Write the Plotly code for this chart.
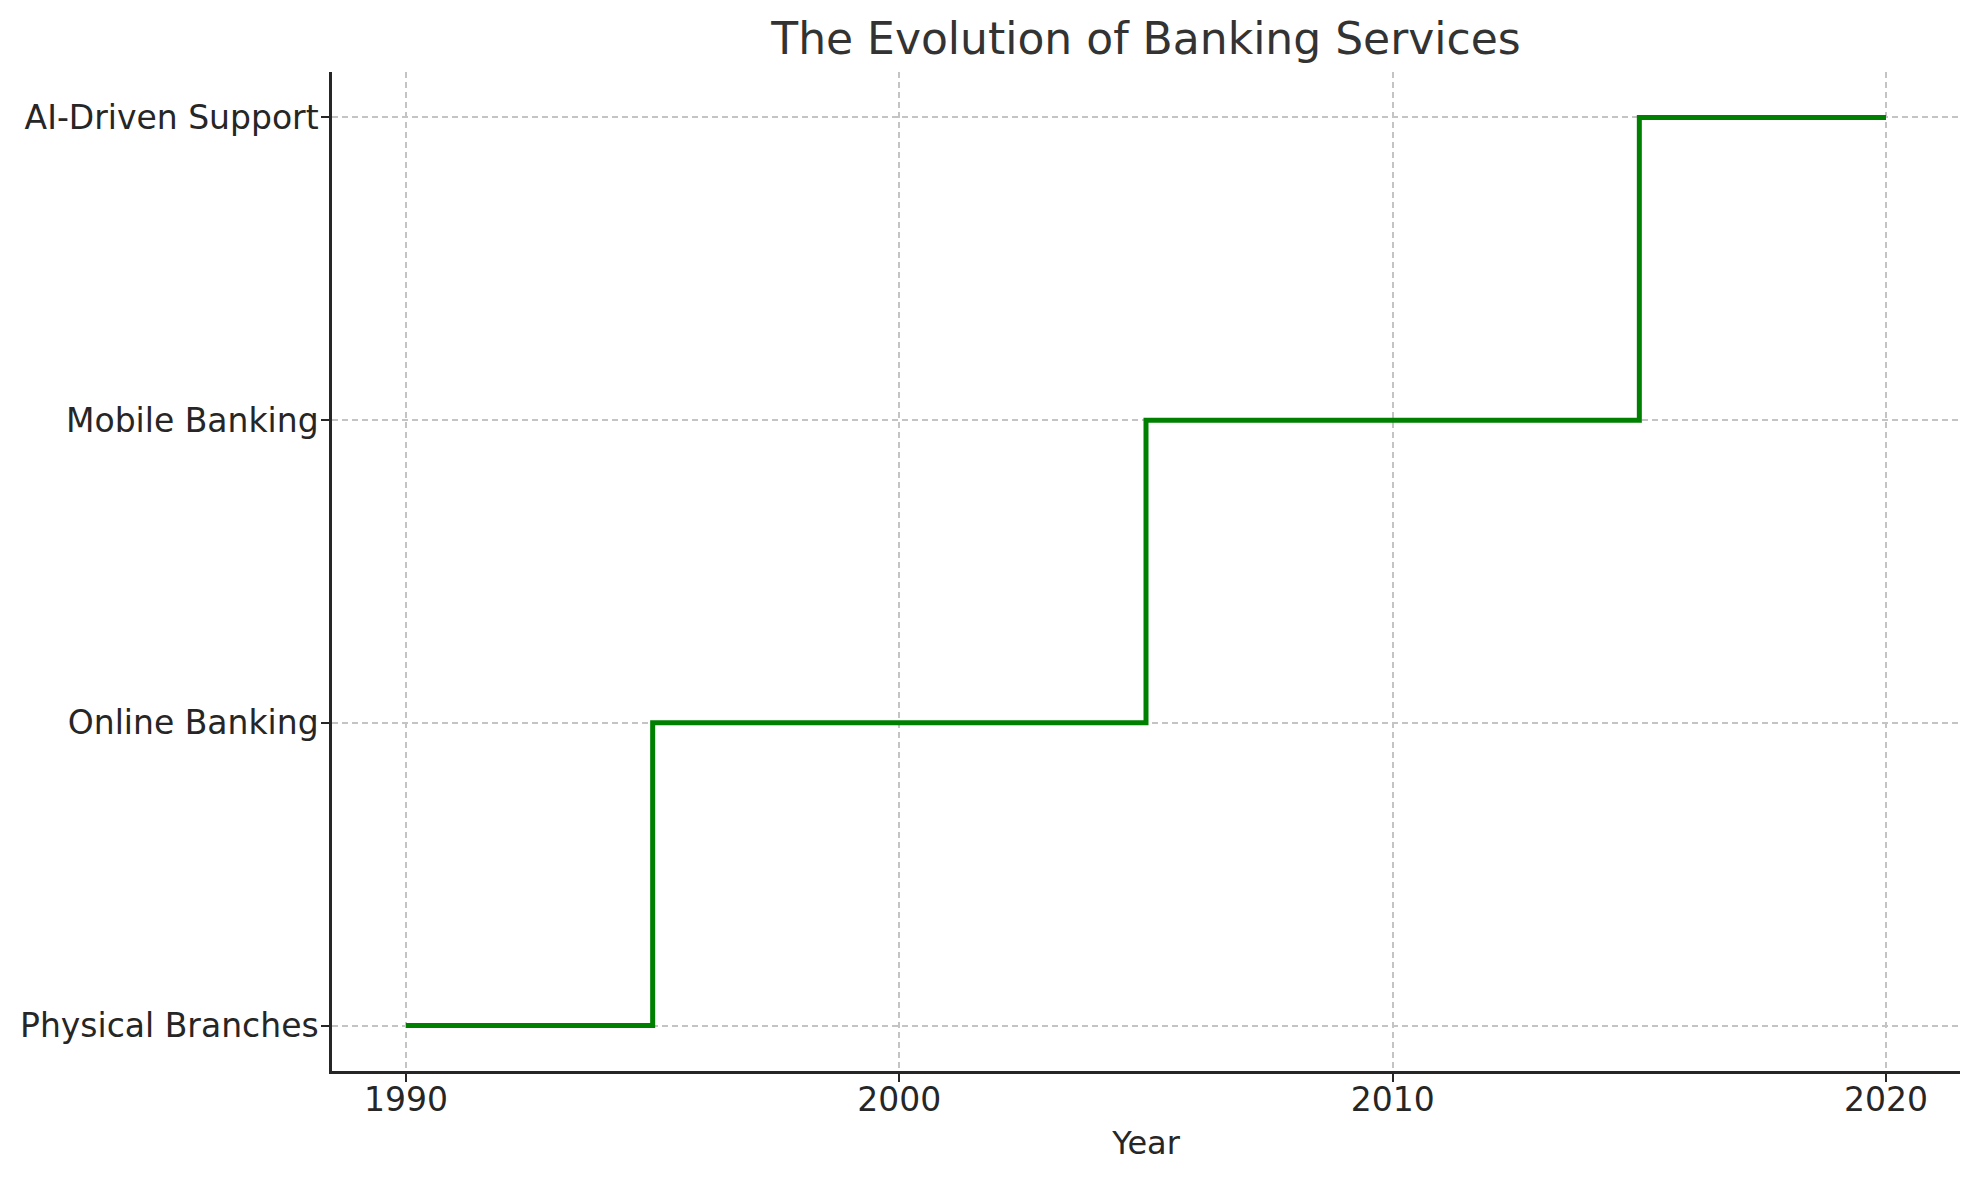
import plotly.graph_objects as go

years = [1990, 1995, 2005, 2015, 2020]
services = ["Physical Branches", "Online Banking", "Mobile Banking",
            "AI-Driven Support", "AI-Driven Support"]
service_order = ["Physical Branches", "Online Banking", "Mobile Banking", "AI-Driven Support"]
x_ticks = [1990, 2000, 2010, 2020]

FONT = "DejaVu Sans"

fig = go.Figure()
fig.add_trace(go.Scatter(
    x=years, y=services, mode="lines", line_shape="hv",
    line=dict(color="#008000", width=5),
    showlegend=False,
))

fig.update_layout(
    width=1979, height=1180,
    margin=dict(l=324, r=27, t=64, b=117),
    paper_bgcolor="white", plot_bgcolor="white",
    font=dict(family=FONT, size=33, color="#262626"),
    title=dict(text="The Evolution of Banking Services",
               font=dict(family=FONT, size=44, color="#333333"),
               x=0.5, xanchor="center", xref="paper",
               y=1 - 31 / 1180, yanchor="middle", yref="container"),
)
fig.update_xaxes(
    range=[1988.5, 2021.5], tickvals=x_ticks, ticktext=[str(v) for v in x_ticks],
    showline=True, linecolor="#262626", linewidth=2.5, mirror=False,
    ticks="outside", ticklen=8, tickwidth=2, tickcolor="#262626",
    ticklabelstandoff=-10,
    showgrid=True, gridcolor="#c4c4c4", gridwidth=1.5, griddash="6px,4px",
    zeroline=False, automargin=False,
    title=dict(text="Year", font=dict(family=FONT, size=32, color="#262626"), standoff=14),
    tickfont=dict(family=FONT, size=33, color="#262626"),
)
fig.update_yaxes(
    type="category", categoryorder="array", categoryarray=service_order,
    range=[-0.15, 3.15],
    showline=True, linecolor="#262626", linewidth=2.5, mirror=False,
    ticks="outside", ticklen=8, tickwidth=2, tickcolor="#262626",
    ticklabelstandoff=-4,
    showgrid=True, gridcolor="#c4c4c4", gridwidth=1.5, griddash="6px,4px",
    zeroline=False, automargin=False,
    tickfont=dict(family=FONT, size=33, color="#262626"),
)

fig.write_html("out.html")
